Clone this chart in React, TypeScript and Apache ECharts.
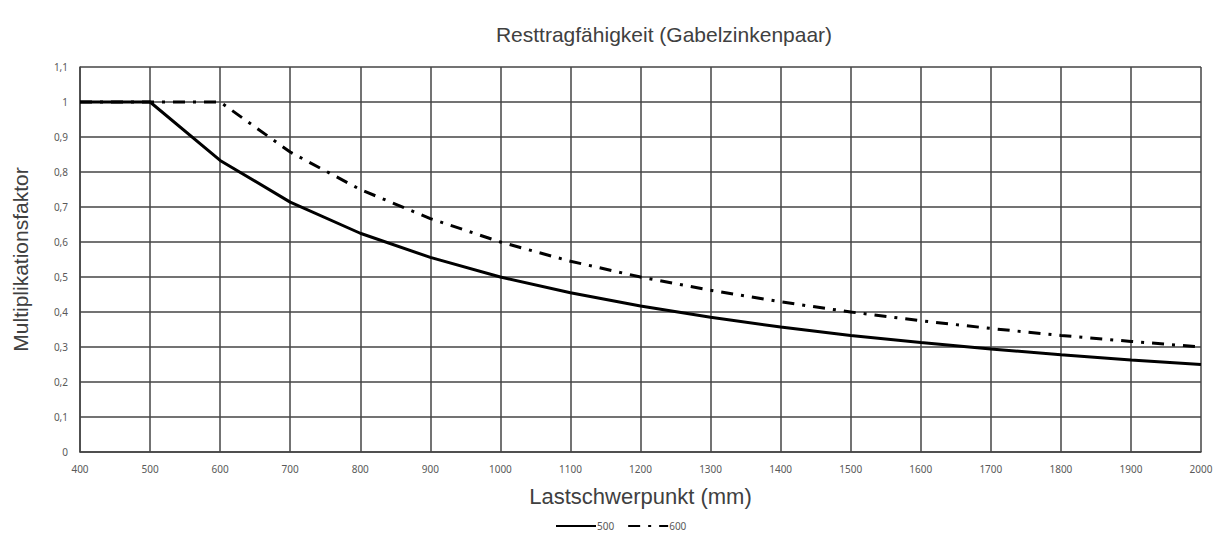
import React, { useEffect, useRef } from "react";
import * as echarts from "echarts";

const xValues = [400, 500, 600, 700, 800, 900, 1000, 1100, 1200, 1300, 1400, 1500, 1600, 1700, 1800, 1900, 2000];
const series500 = [1, 1, 0.833, 0.714, 0.625, 0.556, 0.5, 0.455, 0.417, 0.385, 0.357, 0.333, 0.313, 0.294, 0.278, 0.263, 0.25];
const series600 = [1, 1, 1, 0.857, 0.75, 0.667, 0.6, 0.545, 0.5, 0.462, 0.429, 0.4, 0.375, 0.353, 0.333, 0.316, 0.3];
const seriesNames = ["500", "600"];
const titleText = "Resttragfähigkeit (Gabelzinkenpaar)";
const xName = "Lastschwerpunkt (mm)";
const yName = "Multiplikationsfaktor";

export default function App() {
  const ref = useRef<HTMLDivElement>(null);
  useEffect(() => {
    if (!ref.current) return;
    const chart = echarts.init(ref.current, null, { renderer: "svg" });
    const narrow = "'Liberation Sans', Arial, sans-serif";
    const tickFont = "'Noto Sans', 'Open Sans', sans-serif";
    const gridColor = "#444444";
    chart.setOption({
      animation: false,
      backgroundColor: "#ffffff",
      title: {
        text: titleText,
        left: 659,
        top: 19,
        textAlign: "center",
        textStyle: { fontFamily: narrow, fontSize: 21, fontWeight: "normal", color: "#404040" },
      },
      legend: {
        bottom: 0,
        left: 550,
        itemWidth: 40,
        itemHeight: 10,
        itemGap: 13,
        itemStyle: { opacity: 0 },
        textStyle: { fontFamily: tickFont, fontSize: 10, color: "#595959", padding: [0, 0, 0, -4] },
        data: seriesNames,
      },
      grid: { left: 80, right: 18, top: 67, bottom: 84, outerBoundsMode: "none", containLabel: false },
      xAxis: {
        type: "value",
        min: 400,
        max: 2000,
        interval: 100,
        name: xName,
        nameLocation: "middle",
        nameGap: 33,
        nameTextStyle: { fontFamily: narrow, fontSize: 22, color: "#404040" },
        axisLine: { show: true, lineStyle: { color: gridColor, width: 1.5 } },
        axisTick: { show: false },
        axisLabel: {
          fontFamily: tickFont,
          fontSize: 10,
          color: "#595959",
          margin: 12,
          formatter: (v: number) => String(v),
        },
        splitLine: { show: true, lineStyle: { color: gridColor, width: 1.5 } },
      },
      yAxis: {
        type: "value",
        min: 0,
        max: 1.1,
        interval: 0.1,
        name: yName,
        nameLocation: "middle",
        nameGap: 49,
        nameTextStyle: { fontFamily: narrow, fontSize: 21, color: "#404040" },
        axisLine: { show: true, lineStyle: { color: gridColor, width: 1.5 } },
        axisTick: { show: false },
        axisLabel: {
          fontFamily: tickFont,
          fontSize: 10,
          color: "#595959",
          margin: 12,
          formatter: (v: number) => String(Math.round(v * 10) / 10).replace(".", ","),
        },
        splitLine: { show: true, lineStyle: { color: gridColor, width: 1.5 } },
      },
      series: [
        {
          name: seriesNames[0],
          type: "line",
          symbol: "none",
          data: xValues.map((x, i) => [x, series500[i]]),
          lineStyle: { color: "#000000", width: 3 },
          itemStyle: { color: "#000000" },
          z: 3,
        },
        {
          name: seriesNames[1],
          type: "line",
          symbol: "none",
          data: xValues.map((x, i) => [x, series600[i]]),
          lineStyle: { color: "#000000", width: 3, type: [12, 8, 3, 8] },
          itemStyle: { color: "#000000" },
          z: 2,
        },
      ],
    });
    return () => chart.dispose();
  }, []);
  return (
    <div
      ref={ref}
      style={{ position: "absolute", left: 0, top: 0, width: 1219, height: 536 }}
    />
  );
}
